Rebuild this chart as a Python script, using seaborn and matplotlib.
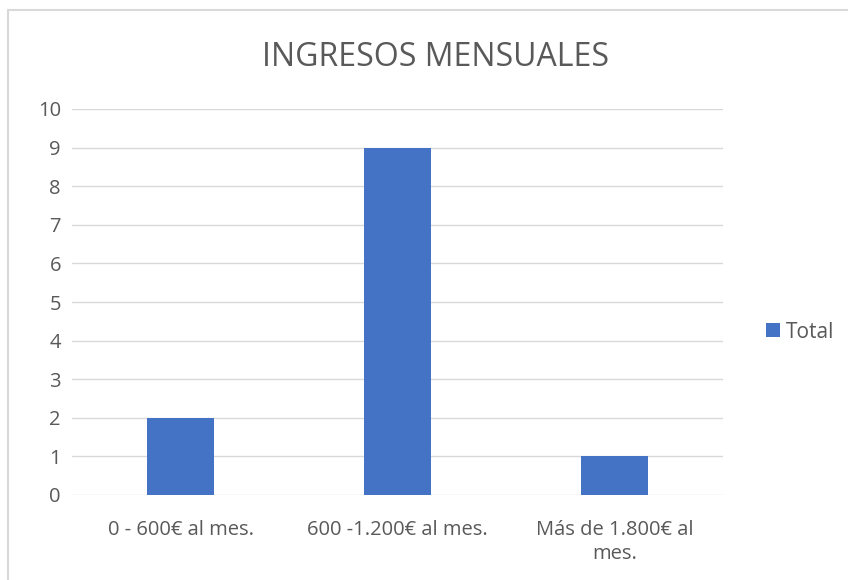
import matplotlib
matplotlib.use("Agg")
import matplotlib.pyplot as plt
from matplotlib.lines import Line2D
from matplotlib.patches import Patch
import seaborn as sns
import pandas as pd

categories = ["0 - 600€ al mes.", "600 -1.200€ al mes.", "Más de 1.800€ al\nmes."]
values = [2, 9, 1]
series_name = "Total"
title = "INGRESOS MENSUALES"
yticks = list(range(0, 11))

sns.set_theme(style="white")
plt.rcParams['font.family'] = ['Open Sans', 'DejaVu Sans']

BLUE = "#4472C4"
GRAY_TEXT = "#595959"
GRID = "#D9D9D9"

df = pd.DataFrame({"cat": categories, series_name: values})

fig = plt.figure(figsize=(8.48, 5.8), dpi=100)
fig.patch.set_facecolor("white")
ax = fig.add_axes([72/848, 1-495/580, (723-72)/848, (495-109)/580])

sns.barplot(data=df, x="cat", y=series_name, color=BLUE, width=0.31,
            saturation=1, ax=ax, edgecolor="none")

ax.set_ylim(0, 10)
ax.set_yticks(yticks)
ax.set_xlim(-0.5, 2.5)
ax.yaxis.grid(True, color=GRID, linewidth=1)
ax.set_axisbelow(True)
for s in ax.spines.values():
    s.set_visible(False)
ax.set_xlabel("")
ax.set_ylabel("")
ax.tick_params(axis="both", length=0, labelsize=14.5, colors=GRAY_TEXT)
ax.tick_params(axis="y", pad=8)
ax.tick_params(axis="x", pad=18)
for lbl in ax.get_xticklabels():
    lbl.set_linespacing(1.25)

fig.text(435/848, 1-57/580, title, ha="center", va="center",
         fontsize=23, color=GRAY_TEXT)

leg = fig.legend(handles=[Patch(facecolor=BLUE, edgecolor="none", label=series_name)],
                 loc="center left", bbox_to_anchor=(766/848, 1-332/580),
                 frameon=False, fontsize=15, handlelength=0.65, handleheight=0.65,
                 handletextpad=0.3, labelcolor=GRAY_TEXT, borderpad=0, borderaxespad=0)

# chart border (left and top visible)
fig.add_artist(Line2D([7.5/848, 7.5/848], [0, 1-10/580], color=GRID, lw=1.5,
                      transform=fig.transFigure))
fig.add_artist(Line2D([7.5/848, 1], [1-10/580, 1-10/580], color=GRID, lw=1.5,
                      transform=fig.transFigure))

fig.savefig("out.png", dpi=100)
